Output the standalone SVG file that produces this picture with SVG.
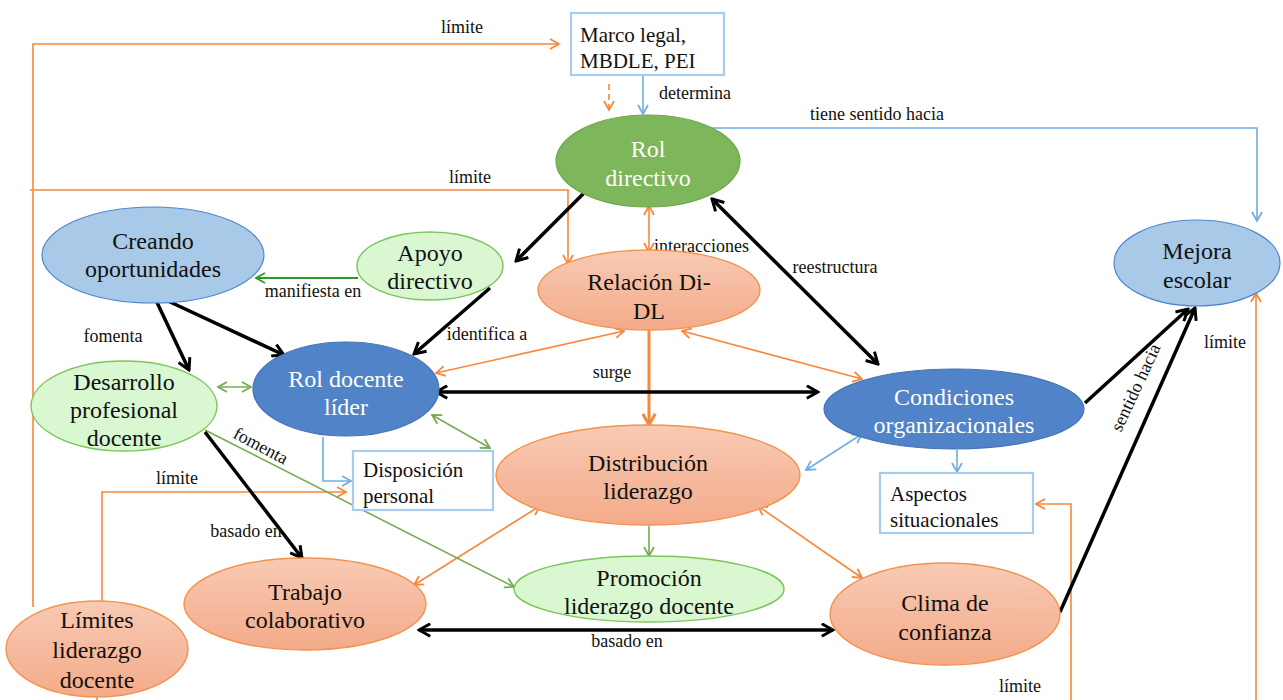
<svg xmlns="http://www.w3.org/2000/svg" width="1283" height="700" viewBox="0 0 1283 700" font-family="'Liberation Serif', 'DejaVu Serif', 'Times New Roman', serif">
<style>
  text { font-family: 'Liberation Serif', 'DejaVu Serif', 'Times New Roman', serif; fill: #111; }
  .n { font-size: 24px; text-anchor: middle; }
  .nl { font-size: 21px; }
  .w { fill: #fff; }
  .lb { font-size: 18px; }
  .lbc { font-size: 18px; text-anchor: middle; }
  .k { stroke: #000; stroke-width: 3.5; fill: none; }
  .o { stroke: #f7873a; stroke-width: 1.6; fill: none; }
  .ob { stroke: #f7873a; stroke-width: 3; fill: none; }
  .b { stroke: #6eaee2; stroke-width: 1.6; fill: none; }
  .g { stroke: #78aa52; stroke-width: 1.6; fill: none; }
  .gd { stroke: #2b9a2b; stroke-width: 2; fill: none; }
  .lightblue { fill: #a8c9e7; stroke: #4f86cf; stroke-width: 1.2; }
  .darkblue { fill: #5083c7; stroke: #4573b4; stroke-width: 1.2; }
  .green { fill: #7db65b; stroke: #6ea34c; stroke-width: 1.2; }
  .lightgreen { fill: #d9f8d2; stroke: #7cc45c; stroke-width: 1.4; }
  .salmon { fill: url(#sal); stroke: #f3934c; stroke-width: 1.4; }
  .box { fill: #fff; stroke: #a7cdee; stroke-width: 2.2; }
</style>
<defs>
  <linearGradient id="sal" x1="0" y1="0" x2="0" y2="1">
    <stop offset="0" stop-color="#f8cab4"/>
    <stop offset="1" stop-color="#f3ab8a"/>
  </linearGradient>
  <marker id="ak" viewBox="0 0 12 12" refX="10.5" refY="6" markerWidth="15" markerHeight="15" orient="auto-start-reverse" markerUnits="userSpaceOnUse">
    <path d="M1.5,1 L10.5,6 L1.5,11" fill="none" stroke="#000" stroke-width="2.4"/>
  </marker>
  <marker id="ao" viewBox="0 0 12 12" refX="10.5" refY="6" markerWidth="12" markerHeight="12" orient="auto-start-reverse" markerUnits="userSpaceOnUse">
    <path d="M1.5,1 L10.5,6 L1.5,11" fill="none" stroke="#f7873a" stroke-width="1.8"/>
  </marker>
  <marker id="aob" viewBox="0 0 12 12" refX="10.5" refY="6" markerWidth="15" markerHeight="15" orient="auto-start-reverse" markerUnits="userSpaceOnUse">
    <path d="M1.5,1 L10.5,6 L1.5,11" fill="none" stroke="#f7873a" stroke-width="2.4"/>
  </marker>
  <marker id="ab" viewBox="0 0 12 12" refX="10.5" refY="6" markerWidth="12" markerHeight="12" orient="auto-start-reverse" markerUnits="userSpaceOnUse">
    <path d="M1.5,1 L10.5,6 L1.5,11" fill="none" stroke="#6eaee2" stroke-width="1.8"/>
  </marker>
  <marker id="ag" viewBox="0 0 12 12" refX="10.5" refY="6" markerWidth="12" markerHeight="12" orient="auto-start-reverse" markerUnits="userSpaceOnUse">
    <path d="M1.5,1 L10.5,6 L1.5,11" fill="none" stroke="#78aa52" stroke-width="1.8"/>
  </marker>
  <marker id="agd" viewBox="0 0 12 12" refX="10.5" refY="6" markerWidth="12" markerHeight="12" orient="auto-start-reverse" markerUnits="userSpaceOnUse">
    <path d="M1.5,1 L10.5,6 L1.5,11" fill="none" stroke="#2b9a2b" stroke-width="1.8"/>
  </marker>
</defs>
<rect width="1283" height="700" fill="#fff"/>

<g id="connectors">
  <!-- limit lines (orange) -->
  <path class="o" d="M33,607 V44 H559" marker-end="url(#ao)"/>
  <path class="o" d="M30,190 H568 V264" marker-end="url(#ao)"/>
  <path class="o" d="M102,602 V492 H346" marker-end="url(#ao)"/>
  <path class="o" d="M97,697 V700"/>
  <path class="o" d="M1071,700 V504 H1036" marker-end="url(#ao)"/>
  <path class="o" d="M1256,700 V293" marker-end="url(#ao)"/>
  <path class="o" d="M609,84 V110" stroke-dasharray="6,4" marker-end="url(#ao)"/>

  <!-- blue -->
  <path class="b" d="M643,76 V114" marker-end="url(#ab)"/>
  <path class="b" d="M706,128 H1257 V221" marker-end="url(#ab)"/>
  <path class="b" d="M323,437 V481 H351" marker-end="url(#ab)"/>
  <path class="b" d="M957,450 V472" marker-end="url(#ab)"/>
  <path class="b" d="M806,470 L862,434" marker-start="url(#ab)" marker-end="url(#ab)"/>

  <!-- orange relations -->
  <path class="o" d="M649,206 V252" marker-start="url(#ao)" marker-end="url(#ao)"/>
  <path class="ob" d="M649,330 V425" marker-end="url(#aob)"/>
  <path class="o" d="M624,331 L436,373" marker-start="url(#ao)" marker-end="url(#ao)"/>
  <path class="o" d="M682,331 L862,379" marker-start="url(#ao)" marker-end="url(#ao)"/>
  <path class="o" d="M540,506 L414,585" marker-start="url(#ao)" marker-end="url(#ao)"/>
  <path class="o" d="M758,506 L862,578" marker-start="url(#ao)" marker-end="url(#ao)"/>

  <!-- green -->
  <path class="gd" d="M358,278 H256" marker-end="url(#agd)"/>
  <path class="g" d="M218,387 H251" marker-start="url(#ag)" marker-end="url(#ag)"/>
  <path class="g" d="M432,415 L490,448" marker-start="url(#ag)" marker-end="url(#ag)"/>
  <path class="g" d="M205,430 L514,587" marker-end="url(#ag)"/>
  <path class="g" d="M649,526 V556" marker-end="url(#ag)"/>

  <!-- black -->
  <path class="k" d="M584,193 L516,261" marker-end="url(#ak)"/>
  <path class="k" d="M153,294 L284,355" marker-end="url(#ak)"/>
  <path class="k" d="M153,294 L189,370" marker-end="url(#ak)"/>
  <path class="k" d="M490,288 L414,354" marker-end="url(#ak)"/>
  <path class="k" d="M712,199 L878,364" marker-start="url(#ak)" marker-end="url(#ak)"/>
  <path class="k" d="M436,392 H818" marker-start="url(#ak)" marker-end="url(#ak)"/>
  <path class="k" d="M205,432 L302,558" marker-end="url(#ak)"/>
  <path class="k" d="M1085,403 L1188,309" marker-end="url(#ak)"/>
  <path class="k" d="M1060,612 L1195,308" marker-end="url(#ak)"/>
  <path class="k" d="M419,630 H833" marker-start="url(#ak)" marker-end="url(#ak)"/>

  <!-- labels -->
  <text class="lbc" x="462" y="33">límite</text>
  <text class="lbc" x="470" y="183">límite</text>
  <text class="lbc" x="177" y="484">límite</text>
  <text class="lbc" x="1020" y="692">límite</text>
  <text class="lbc" x="1225" y="348">límite</text>
  <text class="lb" x="659" y="99">determina</text>
  <text class="lbc" x="877" y="120">tiene sentido hacia</text>
  <text class="lb" x="654" y="252">interacciones</text>
  <text class="lbc" x="835" y="273">reestructura</text>
  <text class="lbc" x="313" y="297">manifiesta en</text>
  <text class="lbc" x="487" y="340">identifica a</text>
  <text class="lbc" x="113" y="342">fomenta</text>
  <text class="lbc" x="612" y="378">surge</text>
  <text class="lbc" transform="translate(258,451) rotate(28)">fomenta</text>
  <text class="lbc" x="246" y="537">basado en</text>
  <text class="lbc" x="627" y="647">basado en</text>
  <text class="lbc" transform="translate(1141,390) rotate(-65)">sentido hacia</text>
</g>

<g id="marco-legal">
  <rect class="box" x="571" y="13" width="153" height="62"/>
  <text class="nl" x="580" y="42">Marco legal,</text>
  <text class="nl" x="580" y="68">MBDLE, PEI</text>
</g>

<g id="rol-directivo">
  <ellipse class="green" cx="648" cy="161" rx="92" ry="46"/>
  <text class="n w" x="648" y="157">Rol</text>
  <text class="n w" x="648" y="186">directivo</text>
</g>

<g id="mejora-escolar">
  <ellipse class="lightblue" cx="1197" cy="263" rx="83" ry="43"/>
  <text class="n" x="1197" y="259">Mejora</text>
  <text class="n" x="1197" y="288">escolar</text>
</g>

<g id="creando-oportunidades">
  <ellipse class="lightblue" cx="153" cy="255" rx="111" ry="48"/>
  <text class="n" x="153" y="249">Creando</text>
  <text class="n" x="153" y="277">oportunidades</text>
</g>

<g id="apoyo-directivo">
  <ellipse class="lightgreen" cx="430" cy="266" rx="73" ry="34"/>
  <text class="n" x="430" y="261">Apoyo</text>
  <text class="n" x="430" y="289">directivo</text>
</g>

<g id="relacion-di-dl">
  <ellipse class="salmon" cx="649" cy="290" rx="111" ry="40"/>
  <text class="n" x="649" y="290">Relación Di-</text>
  <text class="n" x="649" y="319">DL</text>
</g>

<g id="rol-docente-lider">
  <ellipse class="darkblue" cx="346" cy="389" rx="93" ry="47"/>
  <text class="n w" x="346" y="387">Rol docente</text>
  <text class="n w" x="346" y="415">líder</text>
</g>

<g id="desarrollo-profesional">
  <ellipse class="lightgreen" cx="124" cy="406" rx="93" ry="45"/>
  <text class="n" x="124" y="390">Desarrollo</text>
  <text class="n" x="124" y="418">profesional</text>
  <text class="n" x="124" y="446">docente</text>
</g>

<g id="condiciones-organizacionales">
  <ellipse class="darkblue" cx="954" cy="409" rx="130" ry="40"/>
  <text class="n w" x="954" y="405">Condiciones</text>
  <text class="n w" x="954" y="433">organizacionales</text>
</g>

<g id="distribucion-liderazgo">
  <ellipse class="salmon" cx="648" cy="475" rx="152" ry="50"/>
  <text class="n" x="648" y="471">Distribución</text>
  <text class="n" x="648" y="499">liderazgo</text>
</g>

<g id="disposicion-personal">
  <rect class="box" x="353" y="451" width="140" height="59"/>
  <text class="nl" x="363" y="477">Disposición</text>
  <text class="nl" x="363" y="503">personal</text>
</g>

<g id="aspectos-situacionales">
  <rect class="box" x="880" y="473" width="153" height="60"/>
  <text class="nl" x="890" y="501">Aspectos</text>
  <text class="nl" x="890" y="527">situacionales</text>
</g>

<g id="trabajo-colaborativo">
  <ellipse class="salmon" cx="305" cy="604" rx="121" ry="46"/>
  <text class="n" x="305" y="600">Trabajo</text>
  <text class="n" x="305" y="628">colaborativo</text>
</g>

<g id="promocion-liderazgo">
  <ellipse class="lightgreen" cx="649" cy="589" rx="135" ry="33"/>
  <text class="n" x="649" y="586">Promoción</text>
  <text class="n" x="649" y="614">liderazgo docente</text>
</g>

<g id="clima-confianza">
  <ellipse class="salmon" cx="945" cy="614" rx="115" ry="51"/>
  <text class="n" x="945" y="611">Clima de</text>
  <text class="n" x="945" y="640">confianza</text>
</g>

<g id="limites-liderazgo">
  <ellipse class="salmon" cx="97" cy="649" rx="91" ry="48"/>
  <text class="n" x="97" y="628">Límites</text>
  <text class="n" x="97" y="658">liderazgo</text>
  <text class="n" x="97" y="688">docente</text>
</g>
</svg>
